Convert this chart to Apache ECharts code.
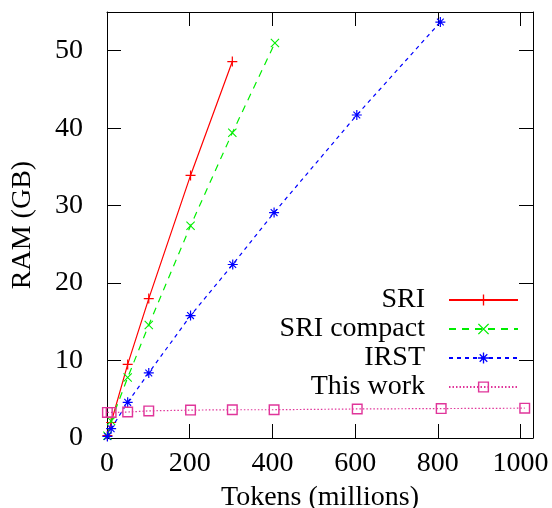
<!DOCTYPE html>
<html>
<head>
<meta charset="utf-8">
<script src="https://cdn.jsdelivr.net/npm/echarts@6/dist/echarts.min.js"></script>
<style>html,body{margin:0;padding:0;background:#fff}#c{width:552px;height:508px}</style>
</head>
<body>
<div id="c"></div>
<script>
// Data (tokens in millions, RAM in GB)
const sriX = [1, 10, 50, 101, 202, 303];
const sriY = [0.3, 2.0, 9.5, 18.0, 33.9, 48.6];
const compactX = [1, 10, 50, 101, 202, 303, 406];
const compactY = [0.3, 2.2, 7.8, 14.6, 27.4, 39.4, 51.0];
const irstX = [1, 10, 50, 101, 202, 304, 404, 604, 806];
const irstY = [0.2, 1.2, 4.6, 8.4, 15.8, 22.4, 29.1, 41.7, 53.7];
const workX = [1, 10, 50, 101, 202, 303, 404, 605, 808, 1010];
const workY = [3.3, 3.3, 3.35, 3.5, 3.6, 3.65, 3.65, 3.75, 3.8, 3.85];
const xTicks = [0, 200, 400, 600, 800, 1000];
const yTicks = [0, 10, 20, 30, 40, 50];
const seriesNames = ['SRI', 'SRI compact', 'IRST', 'This work'];

const zip = (xs, ys) => xs.map((x, i) => [x, ys[i]]);
const FONT = 'Liberation Serif';
const PLUS = 'path://M0,4.4H10V5.6H0Z M4.4,0H5.6V10H4.4Z';
const CROSS = 'path://M0,0.85L0.85,0L10,9.15L9.15,10Z M9.15,0L10,0.85L0.85,10L0,9.15Z';
const STAR = 'path://M0,4.4H10V5.6H0Z M4.4,0H5.6V10H4.4Z M1.2,2L2,1.2L8.8,8L8,8.8Z M8,1.2L8.8,2L2,8.8L1.2,8Z';
const SQUARE = 'path://M0,0H10V10H0Z M1.3,1.3V8.7H8.7V1.3Z';

const chart = echarts.init(document.getElementById('c'));
const tickFmtX = v => (xTicks.indexOf(v) >= 0 ? String(v) : '');
const tickFmtY = v => (yTicks.indexOf(v) >= 0 ? String(v) : '');
const baseAxis = {
  axisLine: { show: true, onZero: false, lineStyle: { color: '#000', width: 1 } },
  axisTick: { show: true, inside: true, length: 14, lineStyle: { color: '#000', width: 1 } },
  splitLine: { show: false },
  minorTick: { show: false }
};
chart.setOption({
  animation: false,
  backgroundColor: '#fff',
  textStyle: { fontFamily: FONT },
  grid: { left: 107, right: 19, top: 12, bottom: 70, show: false, containLabel: false, outerBoundsMode: 'none' },
  xAxis: [
    Object.assign({}, baseAxis, {
      type: 'value', min: 0, max: 1030, interval: 200, position: 'bottom',
      name: 'Tokens (millions)', nameLocation: 'middle', nameGap: 46,
      nameTextStyle: { fontFamily: FONT, fontSize: 28, color: '#000' },
      axisLabel: { fontFamily: FONT, fontSize: 28, color: '#000', margin: 12, formatter: tickFmtX }
    }),
    Object.assign({}, baseAxis, {
      type: 'value', min: 0, max: 1030, interval: 200, position: 'top',
      axisLabel: { show: false }
    })
  ],
  yAxis: [
    Object.assign({}, baseAxis, {
      type: 'value', min: 0, max: 55, interval: 10, position: 'left',
      name: 'RAM (GB)', nameLocation: 'middle', nameGap: 70,
      nameTextStyle: { fontFamily: FONT, fontSize: 28, color: '#000' },
      axisLabel: { fontFamily: FONT, fontSize: 28, color: '#000', margin: 24, formatter: tickFmtY }
    }),
    Object.assign({}, baseAxis, {
      type: 'value', min: 0, max: 55, interval: 10, position: 'right',
      axisLabel: { show: false }
    })
  ],
  legend: {
    orient: 'vertical', right: 28, top: 281, align: 'right',
    itemWidth: 69, itemHeight: 14, itemGap: 1,
    textStyle: { fontFamily: FONT, fontSize: 28, color: '#000', padding: [0, 19, 0, 0] },
    data: seriesNames
  },
  series: [
    {
      name: seriesNames[0], type: 'line', data: zip(sriX, sriY),
      symbol: PLUS, symbolSize: 10, symbolKeepAspect: true,
      lineStyle: { color: '#ff0000', width: 1.2, type: 'solid' },
      itemStyle: { color: '#ff0000' }, z: 2
    },
    {
      name: seriesNames[1], type: 'line', data: zip(compactX, compactY),
      symbol: CROSS, symbolSize: 9, symbolKeepAspect: true,
      lineStyle: { color: '#00ee00', width: 1.2, type: [7, 6] },
      itemStyle: { color: '#00ee00' }, z: 3
    },
    {
      name: seriesNames[2], type: 'line', data: zip(irstX, irstY),
      symbol: STAR, symbolSize: 10, symbolKeepAspect: true,
      lineStyle: { color: '#0000ff', width: 1.2, type: [4, 4] },
      itemStyle: { color: '#0000ff' }, z: 4
    },
    {
      name: seriesNames[3], type: 'line', data: zip(workX, workY),
      symbol: SQUARE, symbolSize: 11, symbolKeepAspect: true,
      lineStyle: { color: '#e0359a', width: 1.2, type: [1.5, 2] },
      itemStyle: { color: '#e0359a' }, z: 5
    }
  ]
});
</script>
</body>
</html>
